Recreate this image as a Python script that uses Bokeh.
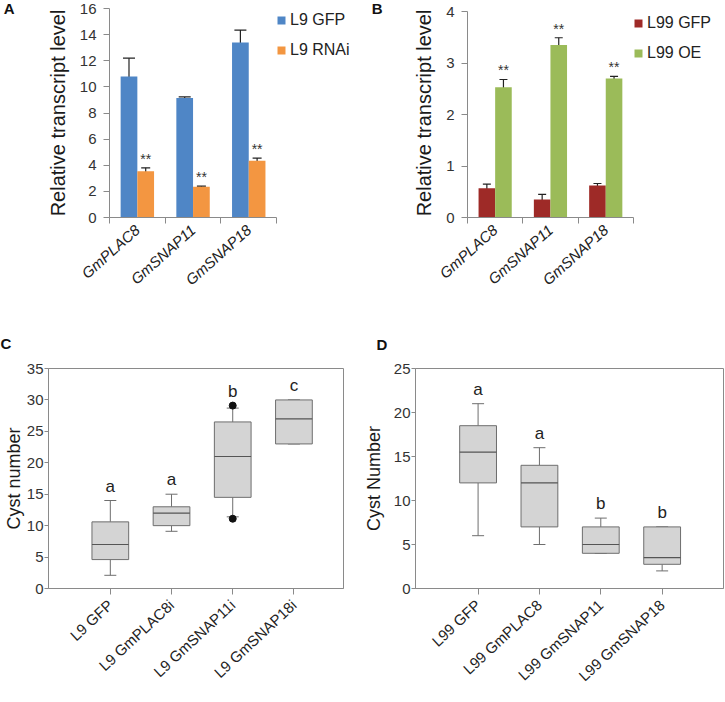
import numpy as np
from bokeh.plotting import figure
from bokeh.models import (ColumnDataSource, Range1d, FixedTicker, Whisker, TeeHead,
                          Legend, LegendItem, LinearAxis)
from bokeh.layouts import row, column
from bokeh.embed import file_html
from bokeh.resources import INLINE
from bokeh.core.properties import value

FONT = "Liberation Sans"
AXIS_GRAY = "#8a8a8a"
TICK_TXT = "#333333"

# ---------------- data ----------------
genes = ["GmPLAC8", "GmSNAP11", "GmSNAP18"]

# Panel A
a_names = ["L9 GFP", "L9 RNAi"]
a_gfp = [10.8, 9.15, 13.4]
a_gfp_err = [1.4, 0.08, 0.95]
a_rnai = [3.55, 2.35, 4.35]
a_rnai_err = [0.25, 0.05, 0.2]
a_yticks = [0, 2, 4, 6, 8, 10, 12, 14, 16]

# Panel B
b_names = ["L99 GFP", "L99 OE"]
b_gfp = [0.57, 0.35, 0.62]
b_gfp_err = [0.08, 0.10, 0.04]
b_oe = [2.53, 3.35, 2.70]
b_oe_err = [0.15, 0.14, 0.04]
b_yticks = [0, 1, 2, 3, 4]

# Panel C
c_groups = ["L9 GFP", "L9 GmPLAC8i", "L9 GmSNAP11i", "L9 GmSNAP18i"]
c_lo = [2.1, 9.1, 11.4, 23.0]
c_q1 = [4.6, 10.0, 14.5, 23.0]
c_med = [7.0, 12.0, 21.0, 27.0]
c_q3 = [10.6, 13.0, 26.5, 30.0]
c_hi = [14.0, 15.0, 28.7, 30.0]
c_out_group = [2, 2]
c_out_val = [29.1, 11.1]
c_letters = ["a", "a", "b", "c"]
c_yticks = [0, 5, 10, 15, 20, 25, 30, 35]

# Panel D
d_groups = ["L99 GFP", "L99 GmPLAC8", "L99 GmSNAP11", "L99 GmSNAP18"]
d_lo = [6.0, 5.0, 4.0, 2.0]
d_q1 = [12.0, 7.0, 4.0, 2.75]
d_med = [15.5, 12.0, 5.0, 3.5]
d_q3 = [18.5, 14.0, 7.0, 7.0]
d_hi = [21.0, 16.0, 8.0, 7.0]
d_letters = ["a", "a", "b", "b"]
d_yticks = [0, 5, 10, 15, 20, 25]


def bar_panel(W, H, left, right, top, bottom, cat_px, ymax, ymax_px, yticks,
              s1, e1, s2, e2, names, colors, caps, letter, letter_standoff, leg_xy):
    # ymax is drawn ymax_px below the top of the frame
    frame_h = H - top - bottom
    yext = ymax * frame_h / (frame_h - ymax_px)
    xmax = (W - left - right) / cat_px
    p = figure(width=W, height=H, x_range=Range1d(0, xmax), y_range=Range1d(0, yext),
               output_backend="svg", toolbar_location=None,
               min_border_left=left, min_border_right=right,
               min_border_top=top, min_border_bottom=bottom)
    p.xgrid.visible = False
    p.ygrid.visible = False
    p.outline_line_color = None
    idx = np.arange(len(genes))
    x1 = idx + 0.35
    x2 = idx + 0.65
    s1 = np.array(s1); s2 = np.array(s2); e1 = np.array(e1); e2 = np.array(e2)
    r1 = p.vbar(x=x1, top=s1, width=0.3, fill_color=colors[0], line_color=None)
    r2 = p.vbar(x=x2, top=s2, width=0.3, fill_color=colors[1], line_color=None)
    for xx, ss, ee, cap in ((x1, s1, e1, caps[0]), (x2, s2, e2, caps[1])):
        src = ColumnDataSource(dict(x=xx, upper=ss + ee, lower=ss - ee))
        p.add_layout(Whisker(source=src, base="x", upper="upper", lower="lower",
                             line_color="#222222", line_width=1.2,
                             upper_head=TeeHead(size=cap, line_color="#222222", line_width=1.2),
                             lower_head=TeeHead(size=cap, line_color="#222222", line_width=1.2)))
    p.text(x=x2, y=s2 + e2, text=["**"] * len(genes), text_align="center",
           text_baseline="bottom", y_offset=-1, text_font=value(FONT),
           text_font_size="14px", text_color="#333333")

    xa = p.xaxis[0]
    xa.bounds = (0, len(genes))
    xa.ticker = FixedTicker(ticks=list(idx + 0.5), minor_ticks=list(range(len(genes) + 1)))
    xa.major_label_overrides = {float(i + 0.5): g for i, g in enumerate(genes)}
    xa.major_tick_line_color = None
    xa.major_tick_out = 6
    xa.minor_tick_line_color = AXIS_GRAY
    xa.minor_tick_out = 6
    xa.minor_tick_in = 0
    xa.axis_line_color = AXIS_GRAY
    xa.major_label_orientation = 0.73
    xa.major_label_text_font = FONT
    xa.major_label_text_font_style = "italic"
    xa.major_label_text_font_size = "15px"
    xa.major_label_text_color = "#222222"
    xa.major_label_standoff = 4

    ya = p.yaxis[0]
    ya.bounds = (0, ymax)
    ya.ticker = FixedTicker(ticks=yticks, minor_ticks=[])
    ya.major_tick_out = 6
    ya.major_tick_in = 0
    ya.major_tick_line_color = AXIS_GRAY
    ya.minor_tick_line_color = None
    ya.axis_line_color = AXIS_GRAY
    ya.major_label_text_font = FONT
    ya.major_label_text_font_size = "15px"
    ya.major_label_text_color = TICK_TXT
    ya.major_label_standoff = 7
    ya.axis_label = "Relative transcript level"
    ya.axis_label_text_font = FONT
    ya.axis_label_text_font_size = "20px"
    ya.axis_label_text_font_style = "normal"
    ya.axis_label_text_color = "#1a1a1a"
    ya.axis_label_standoff = 8

    # panel letter as the horizontal label of an empty outer axis
    la = LinearAxis(ticker=FixedTicker(ticks=[]),
                    axis_line_color=None,
                    major_tick_line_color=None, minor_tick_line_color=None,
                    major_label_text_alpha=0, major_tick_out=0, minor_tick_out=0,
                    axis_label=letter, axis_label_orientation="horizontal",
                    axis_label_align="end", axis_label_standoff=letter_standoff,
                    axis_label_text_font=FONT, axis_label_text_font_size="15px",
                    axis_label_text_font_style="bold", axis_label_text_color="#111111")
    p.add_layout(la, "left")

    leg = Legend(items=[LegendItem(label=names[0], renderers=[r1]),
                        LegendItem(label=names[1], renderers=[r2])],
                 location=leg_xy, orientation="vertical",
                 glyph_width=10, glyph_height=10, label_standoff=4,
                 label_text_font=FONT, label_text_font_size="16px",
                 label_text_color="#222222", label_height=18, spacing=12,
                 padding=0, margin=0, border_line_color=None,
                 background_fill_alpha=0)
    p.add_layout(leg, "center")
    return p


def box_panel(W, H, left, right, top, bottom, xr, ymax, yticks, groups,
              lo, q1, med, q3, hi, letters, ylabel, ylab_standoff, letter, loff,
              out_g=None, out_v=None):
    p = figure(width=W, height=H, x_range=Range1d(*xr), y_range=Range1d(0, ymax),
               output_backend="svg", toolbar_location=None,
               min_border_left=left, min_border_right=right,
               min_border_top=top, min_border_bottom=bottom)
    p.xgrid.visible = False
    p.ygrid.visible = False
    p.outline_line_color = AXIS_GRAY
    p.title.text = letter
    p.title.align = "left"
    p.title.vertical_align = "top"
    p.title.offset = loff
    p.title.standoff = top - 20
    p.title.text_font = FONT
    p.title.text_font_size = "15px"
    p.title.text_font_style = "bold"
    p.title.text_color = "#111111"
    idx = np.arange(len(groups))
    lo = np.array(lo); q1 = np.array(q1); med = np.array(med)
    q3 = np.array(q3); hi = np.array(hi)
    line = "#6e6e6e"
    src_up = ColumnDataSource(dict(x=idx, upper=hi, lower=q3))
    src_dn = ColumnDataSource(dict(x=idx, upper=q1, lower=lo))
    p.add_layout(Whisker(source=src_up, base="x", upper="upper", lower="lower",
                         line_color=line, line_width=1,
                         upper_head=TeeHead(size=12, line_color=line, line_width=1),
                         lower_head=None))
    p.add_layout(Whisker(source=src_dn, base="x", upper="upper", lower="lower",
                         line_color=line, line_width=1,
                         lower_head=TeeHead(size=12, line_color=line, line_width=1),
                         upper_head=None))
    p.vbar(x=idx, top=q3, bottom=q1, width=0.6, fill_color="#d4d4d4",
           line_color=line, line_width=1)
    p.segment(x0=idx - 0.3, x1=idx + 0.3, y0=med, y1=med, line_color="#555555",
              line_width=1.2)
    tops = hi.copy()
    if out_g is not None:
        p.scatter(x=out_g, y=out_v, size=7, color="#111111")
        for g, v in zip(out_g, out_v):
            tops[g] = max(tops[g], v)
    p.text(x=idx, y=tops, text=letters, text_align="center", text_baseline="bottom",
           y_offset=-5, text_font=value(FONT), text_font_size="17px",
           text_color="#222222")

    xa = p.xaxis[0]
    xa.ticker = FixedTicker(ticks=list(idx), minor_ticks=[])
    xa.major_label_overrides = {int(i): g for i, g in enumerate(groups)}
    xa.major_tick_out = 6
    xa.major_tick_in = 0
    xa.major_tick_line_color = AXIS_GRAY
    xa.minor_tick_line_color = None
    xa.axis_line_color = AXIS_GRAY
    xa.major_label_orientation = 0.75
    xa.major_label_text_font = FONT
    xa.major_label_text_font_size = "15px"
    xa.major_label_text_color = "#222222"
    xa.major_label_standoff = 8

    ya = p.yaxis[0]
    ya.ticker = FixedTicker(ticks=yticks, minor_ticks=[])
    ya.major_tick_out = 4
    ya.major_tick_in = 0
    ya.major_tick_line_color = AXIS_GRAY
    ya.minor_tick_line_color = None
    ya.axis_line_color = AXIS_GRAY
    ya.major_label_text_font = FONT
    ya.major_label_text_font_size = "15px"
    ya.major_label_text_color = TICK_TXT
    ya.major_label_standoff = 1
    ya.axis_label = ylabel
    ya.axis_label_text_font = FONT
    ya.axis_label_text_font_size = "18px"
    ya.axis_label_text_font_style = "normal"
    ya.axis_label_text_color = "#1a1a1a"
    ya.axis_label_standoff = ylab_standoff
    return p


pA = bar_panel(360, 318, 109, 0, 8, 101, 55.7, 16, 0, a_yticks,
               a_gfp, a_gfp_err, a_rnai, a_rnai_err,
               a_names, ["#4f86c6", "#f39641"], [12, 9], "A", 29, (167, 158))
pB = bar_panel(365, 318, 107, 5, 8, 101, 55.3, 4, 3, b_yticks,
               b_gfp, b_gfp_err, b_oe, b_oe_err,
               b_names, ["#9e2a27", "#9bbb59"], [8, 8], "B", 28, (166, 155))
pC = box_panel(360, 384, 46, 17, 50, 108, (-1.01, 3.81), 35, c_yticks, c_groups,
               c_lo, c_q1, c_med, c_q3, c_hi, c_letters, "Cyst number", 0, "C", -48,
               c_out_group, c_out_val)
pD = box_panel(365, 384, 54, 2, 48, 114, (-1.02, 4.0), 25, d_yticks, d_groups,
               d_lo, d_q1, d_med, d_q3, d_hi, d_letters, "Cyst Number", 7, "D", -39)

layout = column(row(pA, pB), row(pC, pD))
open("out.html", "w").write(file_html(layout, INLINE))
